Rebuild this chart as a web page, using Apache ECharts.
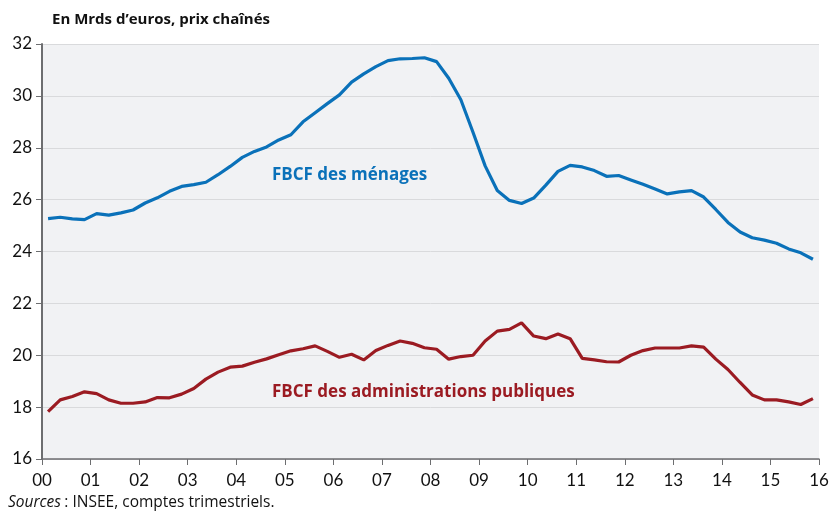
<!DOCTYPE html>
<html>
<head>
<meta charset="utf-8">
<script src="https://cdn.jsdelivr.net/npm/echarts@6/dist/echarts.min.js"></script>
<style>
html,body{margin:0;padding:0;background:#fff;}
#chart{width:835px;height:513px;}
</style>
</head>
<body>
<div id="chart"></div>
<script>
// Quarterly data 2000T1 .. 2015T4
const yearLabels = ['00','01','02','03','04','05','06','07','08','09','10','11','12','13','14','15','16'];
const quarters = [];
for (let y = 2000; y <= 2015; y++) for (let q = 1; q <= 4; q++) quarters.push(y + 'T' + q);

const menages = [
  25.27, 25.32, 25.26, 25.23, 25.46, 25.40, 25.49, 25.60,
  25.87, 26.07, 26.32, 26.51, 26.58, 26.67, 26.96, 27.28,
  27.63, 27.86, 28.03, 28.30, 28.50, 29.00, 29.35, 29.70,
  30.04, 30.53, 30.85, 31.13, 31.36, 31.43, 31.44, 31.47,
  31.32, 30.68, 29.85, 28.60, 27.30, 26.35, 25.97, 25.85,
  26.06, 26.56, 27.09, 27.32, 27.26, 27.12, 26.90, 26.93,
  26.76, 26.59, 26.41, 26.22, 26.30, 26.35, 26.10, 25.62,
  25.12, 24.75, 24.53, 24.44, 24.32, 24.10, 23.95, 23.70
];
const administrations = [
  17.83, 18.28, 18.41, 18.59, 18.52, 18.28, 18.15, 18.15,
  18.20, 18.37, 18.36, 18.50, 18.72, 19.08, 19.35, 19.54,
  19.58, 19.73, 19.86, 20.02, 20.17, 20.25, 20.36, 20.15,
  19.92, 20.04, 19.82, 20.18, 20.38, 20.55, 20.46, 20.29,
  20.23, 19.85, 19.95, 20.00, 20.55, 20.93, 21.00, 21.25,
  20.74, 20.64, 20.82, 20.64, 19.88, 19.82, 19.75, 19.74,
  20.00, 20.18, 20.28, 20.28, 20.28, 20.36, 20.31, 19.85,
  19.45, 18.95, 18.47, 18.28, 18.28, 18.20, 18.10, 18.33
];

const toPoints = arr => arr.map((v, i) => [i / 4 + 0.125, v]);

const chart = echarts.init(document.getElementById('chart'));
const axisColor = '#6d6e70';
chart.setOption({
  animation: false,
  backgroundColor: '#ffffff',
  textStyle: { fontFamily: 'Lato' },
  grid: { left: 42, right: 16, top: 44, bottom: 54, show: true, backgroundColor: '#f1f2f4', borderWidth: 0 },
  xAxis: {
    type: 'value', min: 0, max: 16, interval: 1,
    axisLine: { show: true, onZero: false, lineStyle: { color: axisColor, width: 1.5 } },
    axisTick: { show: true, length: 6, lineStyle: { color: axisColor, width: 1 } },
    splitLine: { show: false },
    axisLabel: { color: '#111', fontSize: 17, margin: 13, fontFamily: 'Lato',
      formatter: v => yearLabels[Math.round(v)] }
  },
  yAxis: {
    type: 'value', min: 16, max: 32, interval: 2,
    axisLine: { show: true, lineStyle: { color: axisColor, width: 2 } },
    axisTick: { show: true, length: 6, lineStyle: { color: axisColor, width: 1 } },
    splitLine: { show: true, lineStyle: { color: '#d9dadc', width: 1 } },
    axisLabel: { color: '#111', fontSize: 17, margin: 10, fontFamily: 'Lato' }
  },
  series: [
    { type: 'line', name: 'FBCF des ménages', data: toPoints(menages), showSymbol: false,
      lineStyle: { color: '#0a71b9', width: 3.2 }, itemStyle: { color: '#0a71b9' } },
    { type: 'line', name: 'FBCF des administrations publiques', data: toPoints(administrations), showSymbol: false,
      lineStyle: { color: '#9b1b22', width: 3.2 }, itemStyle: { color: '#9b1b22' } }
  ],
  graphic: [
    { type: 'text', left: 52, top: 12, style: { text: 'En Mrds d\u2019euros, prix chaînés', font: 'bold 15px "Open Sans"', fill: '#111' } },
    { type: 'text', left: 272, top: 167, style: { text: 'FBCF des ménages', font: 'bold 17px "Open Sans"', fill: '#0a71b9' } },
    { type: 'text', left: 272, top: 384, style: { text: 'FBCF des administrations publiques', font: 'bold 17px "Open Sans"', fill: '#9b1b22' } },
    { type: 'text', left: 8, top: 495, style: {
      rich: { i: { font: 'italic 15.5px "Open Sans"', fill: '#111' }, n: { font: '15.5px "Open Sans"', fill: '#111' } },
      text: '{i|Sources} {n|: INSEE, comptes trimestriels.}' } }
  ]
});
</script>
</body>
</html>
